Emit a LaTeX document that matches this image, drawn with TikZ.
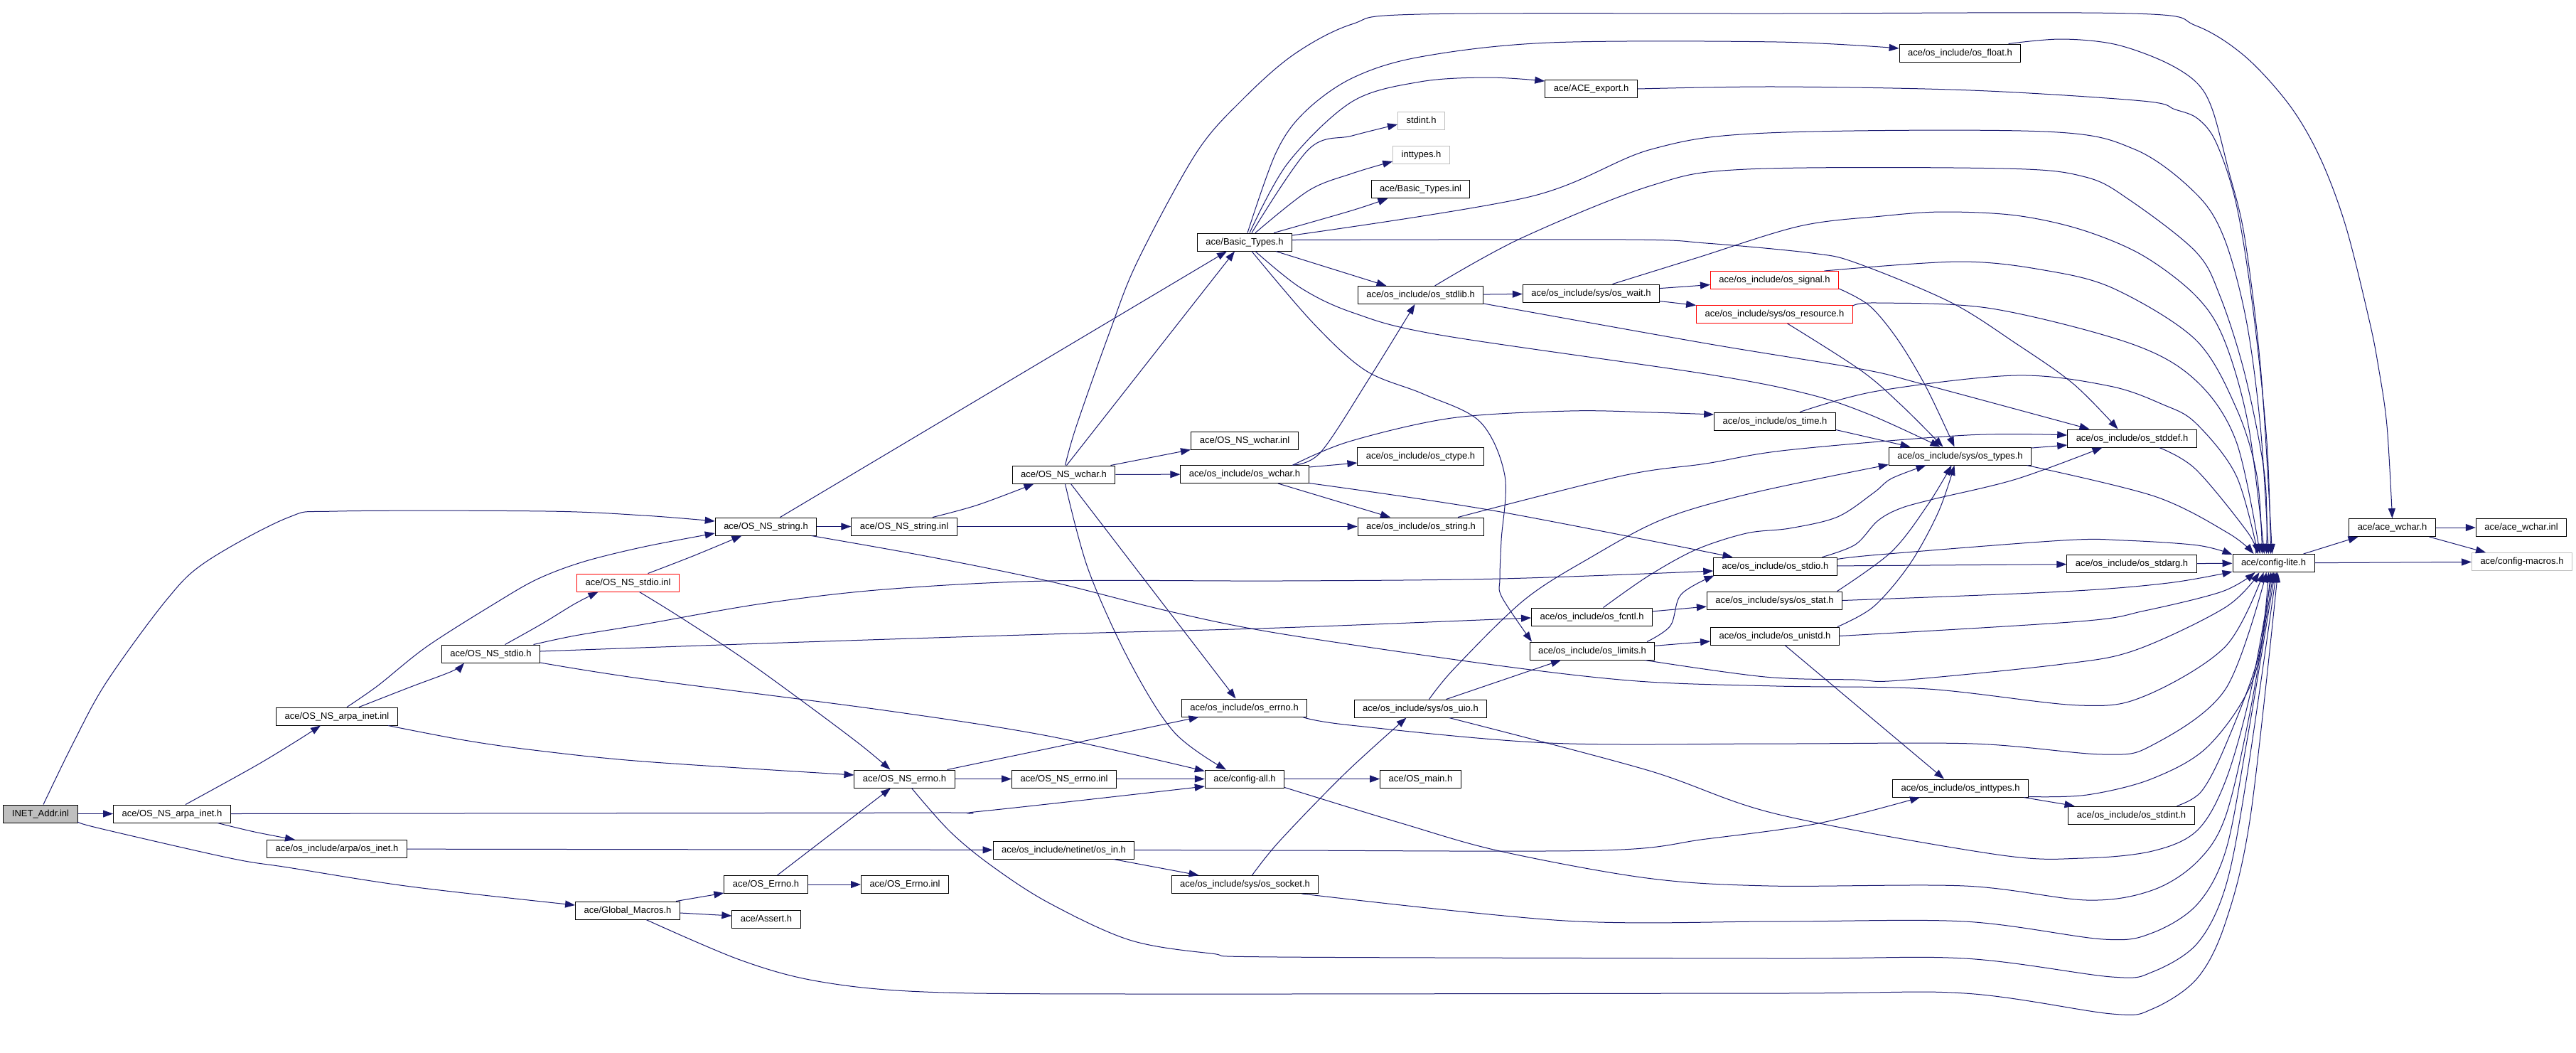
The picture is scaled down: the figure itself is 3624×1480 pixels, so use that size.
\documentclass[tikz,border=0pt]{standalone}
\usepackage{fontspec}
\setmainfont{Liberation Sans}
\usetikzlibrary{arrows.meta}
\definecolor{edgec}{RGB}{25,25,112}
\definecolor{grayb}{RGB}{191,191,191}
\newcommand\edgeplot[1]{\draw[edge] plot[smooth,tension=0.55] coordinates {#1};}
\begin{document}
\begin{tikzpicture}[x=0.5pt,y=-0.5pt,
  box/.style={draw=black,line width=0.5pt,fill=white,font=\fontsize{6.5pt}{7.5pt}\selectfont,
    minimum height=12.5pt,inner xsep=6pt,inner ysep=0pt,text height=4.9pt,text depth=1.4pt},
  redbox/.style={box,draw=red},
  graybox/.style={box,draw=grayb},
  rootbox/.style={box,fill=grayb},
  edge/.style={draw=edgec,line width=0.5pt,-{Triangle[length=7pt,width=5pt]}}]
\fill[white] (0,0) rectangle (3624,1480);
\useasboundingbox (0,0) rectangle (3624,1480);
% nodes
\node[rootbox] (inet) at (57,1144.5) {INET\_Addr.inl};
\node[box] (arpah) at (242,1144.5) {ace/OS\_NS\_arpa\_inet.h};
\node[box] (arpainl) at (474,1007.5) {ace/OS\_NS\_arpa\_inet.inl};
\node[box] (ineth) at (474,1194) {ace/os\_include/arpa/os\_inet.h};
\node[box] (glob) at (883,1280.5) {ace/Global\_Macros.h};
\node[box] (stdioh) at (690.5,919.5) {ace/OS\_NS\_stdio.h};
\node[redbox] (stdioinl) at (883.5,819.5) {ace/OS\_NS\_stdio.inl};
\node[box] (strh) at (1077.5,740.5) {ace/OS\_NS\_string.h};
\node[box] (strinl) at (1272,740.5) {ace/OS\_NS\_string.inl};
\node[box] (wcharh) at (1496.5,667.5) {ace/OS\_NS\_wchar.h};
\node[box] (errnoh) at (1272.5,1095.5) {ace/OS\_NS\_errno.h};
\node[box] (errnoinl) at (1497,1095.5) {ace/OS\_NS\_errno.inl};
\node[box] (errtwo) at (1077.5,1244) {ace/OS\_Errno.h};
\node[box] (errtwoinl) at (1273,1244) {ace/OS\_Errno.inl};
\node[box] (assert) at (1078,1292.5) {ace/Assert.h};
\node[box] (netin) at (1496.5,1195.5) {ace/os\_include/netinet/os\_in.h};
\node[box] (configall) at (1751,1095.5) {ace/config-all.h};
\node[box] (osmain) at (1998.5,1095.5) {ace/OS\_main.h};
\node[box] (oserrno) at (1750.5,995.5) {ace/os\_include/os\_errno.h};
\node[box] (socket) at (1751.5,1244) {ace/os\_include/sys/os\_socket.h};
\node[box] (uio) at (1998.5,996.5) {ace/os\_include/sys/os\_uio.h};
\node[box] (wcharinl) at (1751,619.5) {ace/OS\_NS\_wchar.inl};
\node[box] (oswchar) at (1751,667) {ace/os\_include/os\_wchar.h};
\node[box] (basic) at (1751,340.5) {ace/Basic\_Types.h};
\node[box] (aceexp) at (2238.5,125) {ace/ACE\_export.h};
\node[graybox] (stdint) at (1999.5,170) {stdint.h};
\node[graybox] (inttypes) at (1999.5,218) {inttypes.h};
\node[box] (basicinl) at (1998.5,266) {ace/Basic\_Types.inl};
\node[box] (stdlib) at (1998.5,415) {ace/os\_include/os\_stdlib.h};
\node[box] (ctype) at (1998.5,641.5) {ace/os\_include/os\_ctype.h};
\node[box] (osstring) at (1999,740.5) {ace/os\_include/os\_string.h};
\node[box] (wait) at (2238.5,412.5) {ace/os\_include/sys/os\_wait.h};
\node[redbox] (signal) at (2496.5,394) {ace/os\_include/os\_signal.h};
\node[redbox] (resource) at (2496.5,442) {ace/os\_include/sys/os\_resource.h};
\node[box] (time) at (2497,592.5) {ace/os\_include/os\_time.h};
\node[box] (fcntl) at (2239.5,867.5) {ace/os\_include/os\_fcntl.h};
\node[box] (limits) at (2240,915.5) {ace/os\_include/os\_limits.h};
\node[box] (osstdio) at (2497.5,796.5) {ace/os\_include/os\_stdio.h};
\node[box] (stat) at (2496.5,844.5) {ace/os\_include/sys/os\_stat.h};
\node[box] (unistd) at (2497,894.5) {ace/os\_include/os\_unistd.h};
\node[box] (float) at (2757.5,74.5) {ace/os\_include/os\_float.h};
\node[box] (types) at (2757.5,641.5) {ace/os\_include/sys/os\_types.h};
\node[box] (stddef) at (2999.5,616.5) {ace/os\_include/os\_stddef.h};
\node[box] (stdarg) at (2999,793) {ace/os\_include/os\_stdarg.h};
\node[box] (inttwo) at (2758,1108.5) {ace/os\_include/os\_inttypes.h};
\node[box] (stdinttwo) at (2998.5,1146.5) {ace/os\_include/os\_stdint.h};
\node[box] (lite) at (3198.5,792) {ace/config-lite.h};
\node[box] (acewchar) at (3365.5,742) {ace/ace\_wchar.h};
\node[box] (acewcharinl) at (3547,742) {ace/ace\_wchar.inl};
\node[graybox] (macros) at (3548,790) {ace/config-macros.h};
% edges
\draw[edge] (inet) -- (arpah);
\edgeplot{([xshift=2pt]inet.north) (104,1043) (150,959) (234,844) (290,790) (405,728) (474,719) (769,719) (906,725) ([yshift=3.75pt]strh.west)}
\edgeplot{([yshift=-5.75pt]inet.east) (140,1165) (324,1207) (405,1220) (578,1247) ([yshift=3.75pt]glob.west)}
\edgeplot{([xshift=9.5pt]arpah.north) (358,1078) (416,1043) ([xshift=-11.5pt]arpainl.south)}
\edgeplot{([xshift=32pt]arpah.south) (358,1170) ([xshift=-29.5pt]ineth.north)}
\edgeplot{(arpah.east) (636,1144) (1313,1143) (1380,1141) ([yshift=-5.25pt]configall.west)}
\edgeplot{([xshift=15.5pt]arpainl.north) (578,966) (636,944) ([xshift=-18.75pt]stdioh.south)}
\edgeplot{([xshift=7pt]arpainl.north) (532,964) (601,909) (699,847) (757,814) (821,790) (906,769) ([yshift=-4.75pt]strh.west)}
\edgeplot{([xshift=36pt]arpainl.south) (653,1041) (751,1055) (906,1071) ([yshift=2.75pt]errnoh.west)}
\edgeplot{([xshift=10pt]stdioh.north) (763,877) (809,849) ([xshift=-21pt]stdioinl.south)}
\edgeplot{([xshift=30pt]stdioh.north) (809,894) (906,878) (1072,849) (1244,829) (1474,817) (1800,817) (2110,814) ([yshift=-3.25pt]osstdio.west)}
\edgeplot{([yshift=1.75pt]stdioh.east) (1130,903) (1474,892) (1800,883) ([yshift=-0.75pt]fcntl.west)}
\edgeplot{([yshift=-6.25pt]stdioh.east) (906,955) (1244,999) (1474,1035) ([yshift=5.5pt]configall.west)}
\edgeplot{([xshift=14pt]stdioinl.north) (975,782) ([xshift=-17pt]strh.south)}
\edgeplot{([xshift=8pt]stdioinl.south) (957,868) (1044,925) (1130,987) (1210,1047) ([xshift=-10pt]errnoh.north)}
\draw[edge] (strh) -- (strinl);
\draw[edge] ([xshift=10pt]strh.north) -- ([xshift=-12.5pt]basic.south);
\edgeplot{([xshift=32pt]strh.south) (1302,782) (1474,817) (1646,860) (1800,891) (2100,935) (2304,958) (2500,965) (2712,969) (2925,992) (3017,979) (3131,909) ([xshift=-7pt]lite.south)}
\edgeplot{([xshift=20pt]strinl.north) (1376,710) ([xshift=-21pt]wcharh.south)}
\draw[edge] (strinl) -- (osstring);
\draw[edge] ([xshift=2pt]wcharh.north) -- ([xshift=-7pt]basic.south);
\draw[edge] ([xshift=33pt]wcharh.north) -- ([xshift=-38pt]wcharinl.south);
\draw[edge] (wcharh) -- (oswchar);
\draw[edge] ([xshift=5pt]wcharh.south) -- ([xshift=-6pt]oserrno.north);
\edgeplot{([xshift=1pt]wcharh.south) (1531,801) (1589,930) (1652,1030) ([xshift=-13pt]configall.north)}
\edgeplot{([xshift=1pt]wcharh.north) (1514,600) (1560,470) (1600,368) (1683,215) (1749,139) (1821,76) (1902,34) (1998,20) (2500,19) (3000,19) (3089,36) (3158,79) (3221,148) (3264,222) (3300,318) (3333,450) (3346,516) (3358,599) (acewchar.north)}
\edgeplot{([xshift=2pt]basic.north) (1795,215) (1835,158) (1902,110) (1998,80) (2180,60) (2500,59) ([yshift=3.25pt]float.west)}
\edgeplot{([xshift=3.5pt]basic.north) (1812,229) (1902,143) (1998,115) (2094,109) ([yshift=5.5pt]aceexp.west)}
\edgeplot{([xshift=5pt]basic.north) (1841,210) (1902,191) ([yshift=-2.5pt]stdint.west)}
\edgeplot{([xshift=7.5pt]basic.north) (1841,268) (1902,244) ([yshift=-4.5pt]inttypes.west)}
\edgeplot{([xshift=20.5pt]basic.north) (1902,296) ([xshift=-23pt]basicinl.south)}
\edgeplot{([yshift=4.75pt]basic.east) (2151,277) (2323,210) (2486,187) (2876,185) (3003,210) (3089,272) (3129,335) (3160,450) (3180,600) ([xshift=-3.5pt]lite.north)}
\edgeplot{([yshift=1.5pt]basic.east) (2289,337) (2400,342) (2549,356) (2612,370) (2744,425) (2836,483) (2917,540) ([xshift=-10pt]stddef.north)}
\draw[edge] ([xshift=22pt]basic.south) -- ([xshift=-24pt]stdlib.north);
\edgeplot{([xshift=7.5pt]basic.south) (1830,405) (1904,440) (2025,471) (2400,526) (2543,554) (2630,583) ([xshift=-14pt]types.north)}
\edgeplot{([xshift=5pt]basic.south) (1847,454) (1921,521) (2002,554) (2082,593) (2117,669) (2112,760) (2110,814) (2113,840) ([xshift=-42.5pt]limits.north)}
\draw[edge] (stdlib) -- (wait);
\edgeplot{([yshift=-6pt]stdlib.east) (2400,483) (2618,519) (2704,540) ([xshift=-30pt]stddef.north)}
\edgeplot{([xshift=10pt]stdlib.north) (2140,335) (2323,261) (2457,238) (2819,237) (2934,249) (2997,282) (3089,354) (3123,416) (3158,526) (3186,669) ([xshift=-5pt]lite.north)}
\draw[edge] (wait) -- (signal);
\draw[edge] (wait) -- (resource);
\edgeplot{([xshift=15pt]wait.north) (2386,363) (2532,318) (2647,304) (2733,298) (2836,303) (2928,323) (3014,359) (3089,416) (3129,478) (3163,598) ([xshift=-6.5pt]lite.north)}
\edgeplot{([yshift=-6pt]signal.east) (2630,430) (2670,478) (2710,545) ([xshift=-4pt]types.north)}
\edgeplot{([xshift=35pt]signal.north) (2756,368) (2876,380) (2974,406) (3089,478) (3146,574) (3175,669) ([xshift=-8pt]lite.north)}
\edgeplot{([xshift=9pt]resource.south) (2618,521) (2675,570) ([xshift=-12pt]types.north)}
\edgeplot{([yshift=6pt]resource.east) (2641,426) (2802,434) (2997,483) (3089,535) (3146,621) ([xshift=-9.5pt]lite.north)}
\draw[edge] ([yshift=-6pt]time.east) -- ([xshift=-35pt]types.north);
\edgeplot{([xshift=17.5pt]time.north) (2641,550) (2836,528) (2968,543) (3043,569) (3089,595) (3146,669) ([xshift=-11pt]lite.north)}
\draw[edge] ([yshift=5.75pt]types.east) -- ([yshift=-4.75pt]stddef.west);
\edgeplot{([xshift=47pt]types.south) (3031,698) (3135,750) ([xshift=-14pt]lite.north)}
\edgeplot{([xshift=19pt]stddef.south) (3089,660) (3163,750) ([xshift=-12.5pt]lite.north)}
\edgeplot{([xshift=26pt]osstring.north) (2283,669) (2400,652) (2515,633) (2767,612) ([yshift=2.25pt]stddef.west)}
\edgeplot{([xshift=33.5pt]oswchar.north) (1858,636) (1927,531) ([xshift=-4pt]stdlib.south)}
\edgeplot{([xshift=34pt]oswchar.north) (1898,621) (2042,588) (2208,578) (2324,580) ([yshift=4.75pt]time.west)}
\draw[edge] ([yshift=5pt]oswchar.east) -- ([yshift=-4.75pt]ctype.west);
\draw[edge] ([xshift=23.5pt]oswchar.south) -- ([xshift=-21.5pt]osstring.north);
\edgeplot{([yshift=-6.25pt]oswchar.east) (2100,718) ([xshift=-30pt]osstdio.north)}
\draw[edge] ([xshift=34pt]glob.north) -- ([yshift=-6pt]errtwo.west);
\draw[edge] ([yshift=-1.75pt]glob.east) -- ([yshift=2.25pt]assert.west);
\draw[edge] ([xshift=8pt]errtwo.north) -- ([xshift=-9.75pt]errnoh.south);
\draw[edge] (errtwo) -- (errtwoinl);
\draw[edge] (errnoh) -- (errnoinl);
\draw[edge] ([xshift=30pt]errnoh.north) -- ([xshift=-32pt]oserrno.south);
\edgeplot{([xshift=5pt]errnoh.south) (1336,1169) (1394,1217) (1474,1269) (1589,1322) (1704,1341) (1800,1346) (2500,1348) (2764,1348) (2971,1374) (3028,1367) (3091,1327) (3131,1247) (3160,1098) ([xshift=2pt]lite.south)}
\draw[edge] (errnoinl) -- (configall);
\draw[edge] (configall) -- (osmain);
\edgeplot{([yshift=-6pt]configall.east) (1972,1158) (2110,1197) (2317,1235) (2489,1246) (2764,1246) (2936,1266) (3028,1252) (3091,1212) (3131,1148) (3166,998) (lite.south)}
\edgeplot{([xshift=41pt]oserrno.south) (1900,1020) (2179,1045) (2500,1046) (2776,1046) (2959,1061) (3028,1048) (3131,969) ([xshift=-5pt]lite.south)}
\edgeplot{(netin.east) (1800,1196) (2253,1196) (2400,1180) (2558,1158) ([xshift=-28.5pt]inttwo.south)}
\draw[edge] ([xshift=35pt]netin.south) -- ([xshift=-32.5pt]socket.north);
\draw[edge] (ineth) -- (netin);
\edgeplot{([xshift=5pt]socket.north) (1800,1183) (1892,1088) ([xshift=-10pt]uio.south)}
\edgeplot{([xshift=40pt]socket.south) (2202,1295) (2500,1296) (2764,1296) (2959,1321) (3028,1312) (3091,1272) (3131,1197) (3160,1048) ([xshift=1pt]lite.south)}
\draw[edge] ([xshift=18pt]uio.north) -- ([xshift=-22pt]limits.south);
\edgeplot{([xshift=6pt]uio.north) (2047,939) (2144,844) (2236,785) (2340,730) (2467,693) ([yshift=-6pt]types.west)}
\edgeplot{([xshift=20pt]uio.south) (2317,1083) (2500,1145) (2810,1202) (2930,1207) (3028,1197) (3091,1168) (3131,1098) (3166,974) ([xshift=-1pt]lite.south)}
\draw[edge] (limits) -- (unistd);
\edgeplot{([xshift=38.5pt]limits.north) (2350,880) (2365,836) ([xshift=-43pt]osstdio.south)}
\edgeplot{([xshift=37pt]limits.south) (2483,952) (2610,956) (2672,957) (2902,934) (3005,914) (3131,854) ([xshift=-10pt]lite.south)}
\draw[edge] (fcntl) -- (stat);
\edgeplot{([xshift=8pt]fcntl.north) (2319,810) (2386,773) (2457,750) (2518,743) (2585,727) (2636,693) (2661,673) ([xshift=-24pt]types.south)}
\edgeplot{([xshift=44pt]stat.north) (2661,776) (2712,710) ([xshift=-6pt]types.south)}
\edgeplot{(stat.east) (2902,832) (3050,820) ([yshift=-6pt]lite.west)}
\edgeplot{([xshift=44pt]unistd.north) (2636,853) (2687,793) (2727,720) ([xshift=-4pt]types.south)}
\draw[edge] ([xshift=7pt]unistd.south) -- ([xshift=-11.5pt]inttwo.north);
\edgeplot{(unistd.east) (2925,874) (3017,859) (3126,832) ([xshift=-13pt]lite.south)}
\draw[edge] (osstdio) -- (stdarg);
\edgeplot{([xshift=33pt]osstdio.north) (2610,766) (2641,733) (2671,716) (2716,703) (2836,674) ([xshift=-21pt]stddef.south)}
\edgeplot{([yshift=5pt]osstdio.east) (2644,780) (2902,760) (2988,760) (3092,767) ([yshift=6pt]lite.west)}
\draw[edge] (stdarg) -- (lite);
\draw[edge] ([xshift=44.5pt]inttwo.south) -- ([xshift=-40pt]stdinttwo.north);
\edgeplot{([yshift=-6pt]inttwo.east) (2936,1118) (3028,1095) (3108,1048) (3172,949) ([xshift=-3.5pt]lite.south)}
\edgeplot{([xshift=32pt]stdinttwo.north) (3097,1113) (3131,1048) (3177,924) ([xshift=-2pt]lite.south)}
\edgeplot{([xshift=34pt]float.north) (2899,55) (2974,62) (3043,86) (3089,115) (3112,153) (3135,239) (3158,335) (3181,526) ([xshift=-1pt]lite.north)}
\edgeplot{(aceexp.east) (2500,122) (2773,127) (3014,142) (3060,154) (3092,167) (3118,201) (3146,287) (3169,430) (3189,621) ([xshift=-2pt]lite.north)}
\edgeplot{([xshift=21pt]lite.north) (3279,767) ([xshift=-24pt]acewchar.south)}
\draw[edge] (lite) -- (macros);
\draw[edge] (acewchar) -- (acewcharinl);
\draw[edge] ([xshift=26pt]acewchar.south) -- ([xshift=-25.5pt]macros.north);
\edgeplot{([xshift=13pt]glob.south) (1041,1350) (1150,1380) (1300,1395) (1600,1398) (2500,1397) (2764,1397) (2971,1426) (3028,1419) (3091,1376) (3131,1297) (3166,1148) ([xshift=3pt]lite.south)}
\end{tikzpicture}
\end{document}
